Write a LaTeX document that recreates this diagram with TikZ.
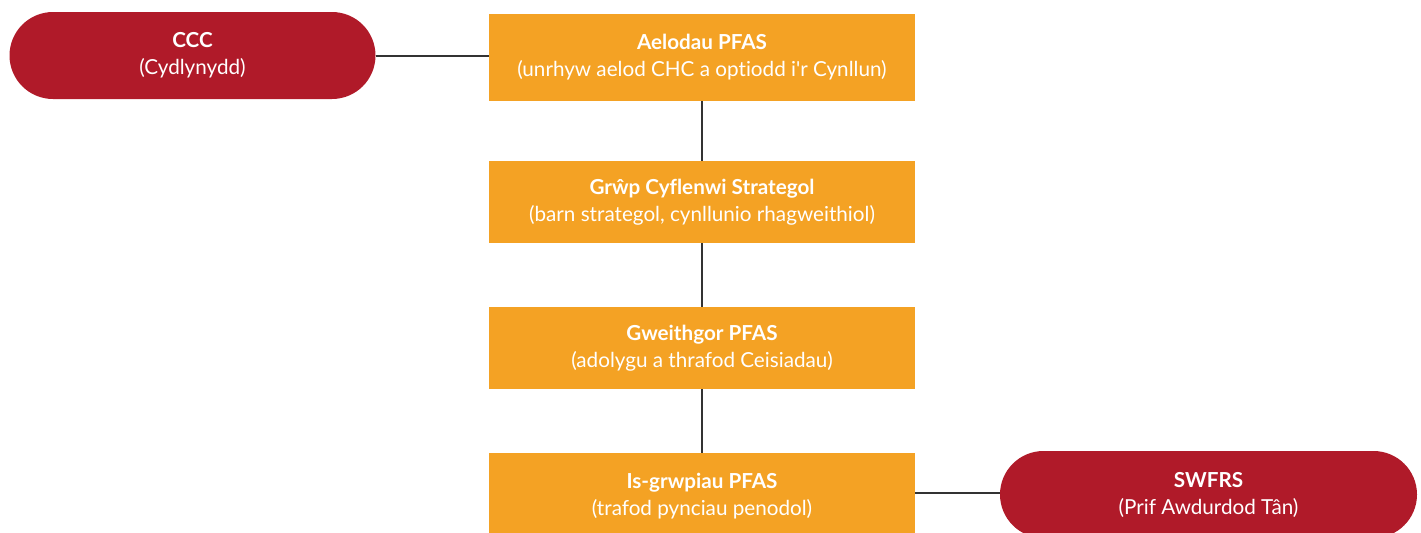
\documentclass[tikz,border=0pt]{standalone}
\usepackage{fontspec}
\setmainfont{Lato}[Ligatures={NoCommon}]
\usetikzlibrary{shapes.misc}
\definecolor{boxorange}{HTML}{F4A224}
\definecolor{boxred}{HTML}{B01A29}
\definecolor{linegray}{HTML}{333333}
\tikzset{
  obox/.style={fill=boxorange, draw=none, minimum width=426*0.75pt, align=center, text=white, font=\fontsize{15.5}{20.25}\selectfont, inner sep=0pt},
  rbox/.style={rounded rectangle, fill=boxred, draw=none, minimum width=366*0.75pt, minimum height=87*0.75pt, align=center, text=white, font=\fontsize{15.5}{20.25}\selectfont, inner sep=0pt},
  conn/.style={draw=linegray, line width=1.5pt},
}
\begin{document}
\begin{tikzpicture}[x=0.75pt,y=-0.75pt]
\useasboundingbox (0,0) rectangle (1421,532);
\clip (0,0) rectangle (1421,532);
\node[rbox] (ccc) at (192.5,55.5) {\textbf{CCC}\\(Cydlynydd)};
\node[obox, minimum height=87*0.75pt] (ael) at (702,57.5) {\textbf{Aelodau PFAS}\\(unrhyw aelod CHC a optiodd i\textquotesingle r Cynllun)};
\node[obox, minimum height=82*0.75pt] (grp) at (702,202) {\textbf{Grŵp Cyflenwi Strategol}\\(barn strategol, cynllunio rhagweithiol)};
\node[obox, minimum height=82*0.75pt] (gwe) at (702,348) {\textbf{Gweithgor PFAS}\\(adolygu a thrafod Ceisiadau)};
\node[obox, minimum height=87*0.75pt] (isg) at (702,496.5) {\textbf{Is-grwpiau PFAS}\\(trafod pynciau penodol)};
\node[rbox, minimum width=417*0.75pt] (swf) at (1208.5,494.5) {\textbf{SWFRS}\\(Prif Awdurdod Tân)};
\draw[conn] (ccc.east) -- (ccc.east -| ael.west);
\draw[conn] (ael) -- (grp);
\draw[conn] (grp) -- (gwe);
\draw[conn] (gwe) -- (isg);
\draw[conn] (isg.east |- 0,493) -- (swf.west |- 0,493);
\end{tikzpicture}
\end{document}
